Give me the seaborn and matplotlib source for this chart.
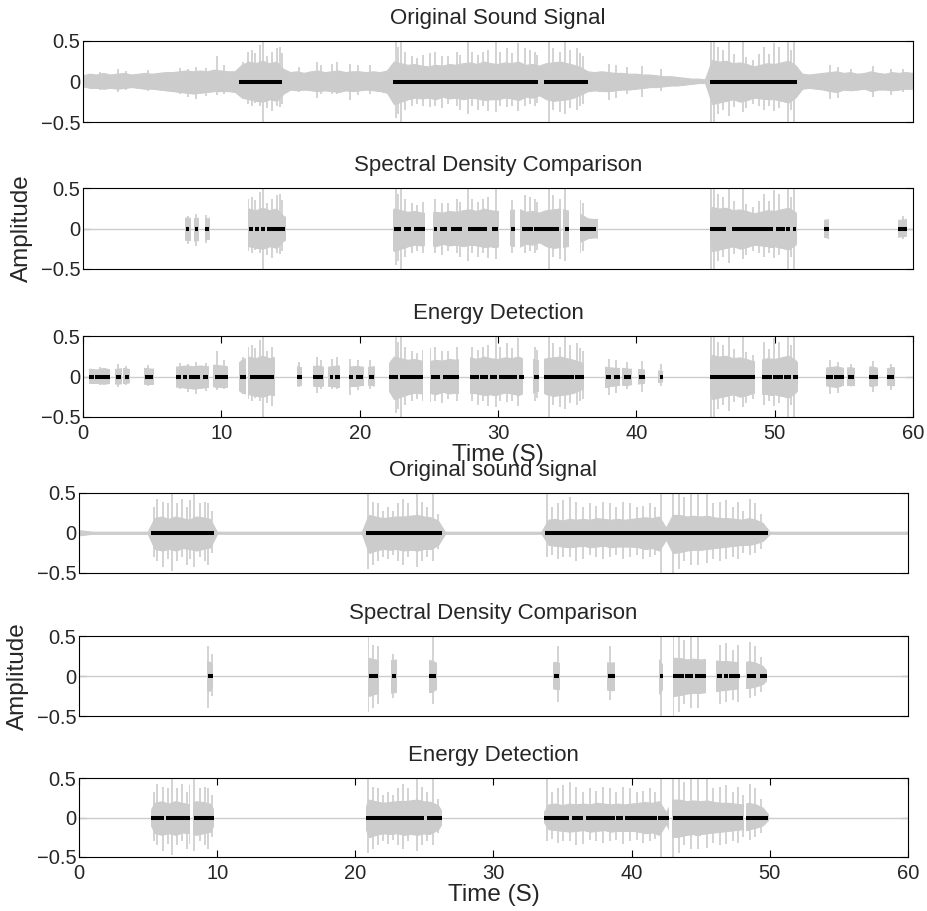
import numpy as np
import matplotlib
matplotlib.use("Agg")
import matplotlib.pyplot as plt
import seaborn as sns
from matplotlib.path import Path

# ---------------- data ----------------
# dense body of recording 1 (upper sound), one value every 0.5 s from 0 to 60 s
rec1_upper = [0.07, 0.09, 0.08, 0.10, 0.08, 0.09, 0.10, 0.08, 0.09, 0.10,
              0.09, 0.10, 0.11, 0.11, 0.12, 0.13, 0.12, 0.13, 0.12, 0.14,
              0.13, 0.12, 0.12, 0.20, 0.24, 0.22, 0.25, 0.22, 0.24, 0.15,
              0.11, 0.12, 0.10, 0.12, 0.13, 0.11, 0.12, 0.13, 0.11, 0.12,
              0.12, 0.11, 0.12, 0.11, 0.13, 0.24, 0.22, 0.20, 0.21, 0.19,
              0.18, 0.20, 0.19, 0.21, 0.20, 0.22, 0.23, 0.21, 0.24, 0.22,
              0.21, 0.23, 0.22, 0.24, 0.20, 0.21, 0.19, 0.22, 0.23, 0.24,
              0.22, 0.20, 0.17, 0.12, 0.11, 0.12, 0.11, 0.10, 0.10, 0.09,
              0.09, 0.08, 0.08, 0.07, 0.06, 0.06, 0.05, 0.04, 0.03, 0.03,
              0.02, 0.26, 0.24, 0.25, 0.22, 0.23, 0.21, 0.18, 0.20, 0.22,
              0.21, 0.23, 0.25, 0.20, 0.09, 0.08, 0.09, 0.10, 0.11, 0.12,
              0.10, 0.11, 0.09, 0.10, 0.12, 0.10, 0.09, 0.11, 0.10, 0.11,
              0.10]
rec1_lower = [-0.06, -0.08, -0.08, -0.09, -0.08, -0.09, -0.08, -0.07, -0.08, -0.09,
              -0.09, -0.10, -0.11, -0.12, -0.13, -0.14, -0.15, -0.14, -0.13, -0.12,
              -0.12, -0.12, -0.13, -0.20, -0.22, -0.24, -0.25, -0.22, -0.24, -0.15,
              -0.10, -0.11, -0.10, -0.11, -0.12, -0.11, -0.12, -0.13, -0.11, -0.12,
              -0.11, -0.10, -0.11, -0.12, -0.14, -0.28, -0.25, -0.22, -0.20, -0.21,
              -0.20, -0.22, -0.19, -0.21, -0.20, -0.22, -0.20, -0.21, -0.23, -0.22,
              -0.22, -0.20, -0.21, -0.23, -0.19, -0.20, -0.17, -0.22, -0.24, -0.23,
              -0.22, -0.20, -0.16, -0.12, -0.11, -0.12, -0.12, -0.11, -0.10, -0.10,
              -0.09, -0.08, -0.07, -0.07, -0.06, -0.05, -0.05, -0.04, -0.03, -0.02,
              -0.02, -0.28, -0.26, -0.24, -0.22, -0.25, -0.23, -0.20, -0.21, -0.22,
              -0.22, -0.24, -0.26, -0.20, -0.09, -0.08, -0.09, -0.10, -0.12, -0.13,
              -0.10, -0.11, -0.10, -0.09, -0.12, -0.10, -0.10, -0.11, -0.10, -0.09,
              -0.09]
# single tall peaks of recording 1: time (s), top, bottom
rec1_peak_t = [1.2, 2.5, 3.1, 4.7, 7.0, 7.6, 8.2, 8.9, 9.7, 10.2,
               11.59, 11.95, 12.2, 12.44, 12.8, 12.99, 13.28, 13.64, 14.0, 14.24, 14.36,
               15.6, 16.9, 17.2, 18.0, 18.34, 19.3, 19.9, 20.75,
               22.61, 22.76, 22.97, 23.28, 23.77, 24.13, 24.61, 25.09, 25.45, 25.93,
               26.42, 27.02, 27.26, 27.81, 28.1, 28.58, 28.95, 29.31, 29.84, 30.15,
               30.63, 31.0, 31.48, 31.96, 32.32, 32.68, 32.8,
               33.69, 34.0, 34.49, 34.85, 35.2, 35.69, 35.93, 36.17,
               38.0, 38.5, 39.3, 40.4, 41.8,
               45.40, 45.64, 45.88, 46.24, 46.73, 47.09, 47.69, 47.93, 48.41, 48.89,
               49.25, 49.61, 49.97, 50.33, 50.94, 51.18, 51.42,
               54.0, 54.6, 55.5, 57.1, 58.4, 59.3]
rec1_peak_hi = [0.12, 0.15, 0.13, 0.14, 0.17, 0.16, 0.18, 0.17, 0.31, 0.20,
                0.24, 0.37, 0.39, 0.35, 0.45, 0.50, 0.31, 0.37, 0.41, 0.42, 0.35,
                0.18, 0.24, 0.20, 0.22, 0.24, 0.22, 0.20, 0.20,
                0.49, 0.43, 0.50, 0.37, 0.31, 0.29, 0.33, 0.35, 0.37, 0.31,
                0.31, 0.37, 0.33, 0.50, 0.37, 0.33, 0.37, 0.39, 0.50, 0.37,
                0.41, 0.35, 0.47, 0.41, 0.39, 0.37, 0.33,
                0.50, 0.41, 0.37, 0.50, 0.39, 0.41, 0.35, 0.31,
                0.22, 0.20, 0.18, 0.19, 0.16,
                0.50, 0.49, 0.43, 0.39, 0.50, 0.34, 0.50, 0.30, 0.26, 0.34,
                0.43, 0.34, 0.47, 0.43, 0.50, 0.39, 0.50,
                0.20, 0.18, 0.16, 0.19, 0.16, 0.15]
rec1_peak_lo = [-0.11, -0.13, -0.10, -0.12, -0.15, -0.19, -0.21, -0.18, -0.17, -0.16,
                -0.22, -0.28, -0.30, -0.27, -0.30, -0.50, -0.33, -0.36, -0.30, -0.32, -0.28,
                -0.13, -0.20, -0.15, -0.15, -0.16, -0.23, -0.17, -0.15,
                -0.45, -0.40, -0.50, -0.35, -0.30, -0.28, -0.30, -0.32, -0.30, -0.33,
                -0.28, -0.30, -0.35, -0.40, -0.30, -0.35, -0.30, -0.36, -0.38, -0.30,
                -0.32, -0.30, -0.36, -0.30, -0.28, -0.30, -0.27,
                -0.50, -0.35, -0.38, -0.40, -0.33, -0.35, -0.30, -0.28,
                -0.23, -0.20, -0.16, -0.19, -0.12,
                -0.50, -0.50, -0.40, -0.35, -0.42, -0.32, -0.38, -0.33, -0.28, -0.30,
                -0.35, -0.30, -0.36, -0.33, -0.50, -0.35, -0.50,
                -0.22, -0.20, -0.12, -0.19, -0.17, -0.13]

# dense body of recording 2 (lower sound), one value every 0.5 s from 0 to 60 s
rec2_upper = [0.03, 0.02, 0.01, 0.01, 0.01, 0.01, 0.01, 0.01, 0.01, 0.01,
              0.01, 0.18, 0.20, 0.17, 0.20, 0.18, 0.16, 0.20, 0.19, 0.17,
              0.01, 0.01, 0.01, 0.01, 0.01, 0.01, 0.01, 0.01, 0.01, 0.01,
              0.01, 0.01, 0.01, 0.01, 0.01, 0.01, 0.01, 0.01, 0.01, 0.01,
              0.01, 0.01, 0.22, 0.20, 0.18, 0.19, 0.20, 0.20, 0.21, 0.22,
              0.20, 0.19, 0.15, 0.01, 0.01, 0.01, 0.01, 0.01, 0.01, 0.01,
              0.01, 0.01, 0.01, 0.01, 0.01, 0.01, 0.01, 0.01, 0.16, 0.17,
              0.15, 0.17, 0.16, 0.17, 0.16, 0.18, 0.17, 0.16, 0.17, 0.16,
              0.17, 0.18, 0.19, 0.18, 0.20, 0.06, 0.22, 0.22, 0.20, 0.21,
              0.20, 0.21, 0.19, 0.18, 0.18, 0.17, 0.16, 0.18, 0.16, 0.12,
              0.01, 0.01, 0.01, 0.01, 0.01, 0.01, 0.01, 0.01, 0.01, 0.01,
              0.01, 0.01, 0.01, 0.01, 0.01, 0.01, 0.01, 0.01, 0.01, 0.01,
              0.01]
rec2_lower = [-0.03, -0.02, -0.01, -0.01, -0.01, -0.01, -0.01, -0.01, -0.01, -0.01,
              -0.01, -0.20, -0.22, -0.20, -0.22, -0.19, -0.20, -0.22, -0.20, -0.18,
              -0.01, -0.01, -0.01, -0.01, -0.01, -0.01, -0.01, -0.01, -0.01, -0.01,
              -0.01, -0.01, -0.01, -0.01, -0.01, -0.01, -0.01, -0.01, -0.01, -0.01,
              -0.01, -0.01, -0.25, -0.22, -0.20, -0.21, -0.20, -0.22, -0.21, -0.22,
              -0.20, -0.20, -0.15, -0.01, -0.01, -0.01, -0.01, -0.01, -0.01, -0.01,
              -0.01, -0.01, -0.01, -0.01, -0.01, -0.01, -0.01, -0.01, -0.15, -0.16,
              -0.17, -0.18, -0.17, -0.16, -0.18, -0.17, -0.16, -0.18, -0.17, -0.17,
              -0.17, -0.18, -0.20, -0.19, -0.22, -0.08, -0.25, -0.24, -0.22, -0.21,
              -0.21, -0.20, -0.19, -0.18, -0.17, -0.16, -0.15, -0.15, -0.13, -0.10,
              -0.01, -0.01, -0.01, -0.01, -0.01, -0.01, -0.01, -0.01, -0.01, -0.01,
              -0.01, -0.01, -0.01, -0.01, -0.01, -0.01, -0.01, -0.01, -0.01, -0.01,
              -0.01]
rec2_peak_t = [5.43, 5.62, 6.1, 6.46, 6.75, 7.07, 7.43, 7.79, 8.03, 8.35, 8.76, 9.12, 9.36, 9.6,
               20.94, 21.3, 21.66, 22.02, 22.38, 22.75, 23.11, 23.47, 23.83, 24.44, 24.8,
               25.16, 25.64, 26.0,
               33.84, 34.2, 34.68, 35.04, 35.53, 36.0, 36.49, 36.97, 37.45, 37.94,
               38.42, 38.9, 39.38, 39.86, 40.35, 40.83, 41.31, 41.67, 42.15, 42.99,
               43.42, 43.76, 44.32, 44.8, 45.47, 45.88, 46.36, 46.84, 47.33, 47.69,
               48.05, 48.53, 48.9, 49.38]
rec2_peak_hi = [0.32, 0.43, 0.39, 0.37, 0.50, 0.37, 0.43, 0.32, 0.41, 0.49, 0.37, 0.39, 0.37, 0.28,
                0.50, 0.39, 0.37, 0.28, 0.32, 0.28, 0.37, 0.43, 0.37, 0.50, 0.39,
                0.32, 0.49, 0.24,
                0.50, 0.32, 0.37, 0.41, 0.45, 0.39, 0.32, 0.37, 0.34, 0.39,
                0.37, 0.32, 0.39, 0.37, 0.32, 0.34, 0.37, 0.32, 0.50, 0.50,
                0.50, 0.45, 0.50, 0.50, 0.50, 0.37, 0.39, 0.41, 0.32, 0.39,
                0.28, 0.43, 0.37, 0.24]
rec2_peak_lo = [-0.30, -0.35, -0.42, -0.33, -0.47, -0.35, -0.30, -0.40, -0.33, -0.42, -0.30, -0.35, -0.40, -0.25,
                -0.45, -0.40, -0.35, -0.30, -0.33, -0.28, -0.35, -0.40, -0.30, -0.42, -0.35,
                -0.30, -0.35, -0.20,
                -0.30, -0.27, -0.32, -0.30, -0.30, -0.35, -0.33, -0.28, -0.30, -0.32,
                -0.30, -0.28, -0.33, -0.30, -0.28, -0.32, -0.30, -0.27, -0.50, -0.50,
                -0.45, -0.35, -0.40, -0.40, -0.38, -0.32, -0.35, -0.33, -0.30, -0.32,
                -0.25, -0.28, -0.25, -0.20]

# kept (grey) intervals and detected (black) intervals, seconds
spec1_keep = [(7.4, 7.8), (8.05, 8.4), (8.8, 9.2), (11.95, 14.7), (22.4, 24.75),
              (25.3, 30.05), (30.9, 31.25), (31.6, 34.55), (34.7, 35.1), (35.9, 37.2),
              (45.3, 51.6), (53.6, 53.9), (58.9, 59.6)]
energy1_keep = [(0.4, 1.95), (2.3, 2.8), (2.9, 3.4), (4.4, 5.1), (6.7, 9.1), (9.4, 10.5),
                (11.3, 11.8), (11.96, 13.9), (15.5, 15.8), (16.6, 17.4), (17.7, 18.6),
                (19.2, 20.3), (20.6, 21.1), (22.1, 24.6), (25.1, 27.2), (28.0, 31.8),
                (32.5, 33.0), (33.3, 36.2), (37.7, 38.8), (39.0, 39.7), (40.1, 40.6),
                (41.6, 41.95), (45.3, 48.6), (49.1, 51.7), (53.7, 55.0), (55.2, 55.8),
                (56.8, 57.5), (58.1, 58.7)]
spec2_keep = [(9.24, 9.67), (20.9, 21.7), (22.6, 23.0), (25.3, 25.9), (34.3, 34.8),
              (38.25, 38.8), (42.0, 42.3), (42.96, 45.4), (46.1, 47.8), (48.3, 49.8)]
energy2_keep = [(5.2, 8.05), (8.25, 9.8), (20.75, 26.3), (33.65, 42.72), (42.95, 48.15),
                (48.3, 49.95)]

orig1_marks = [(11.3, 14.4), (22.4, 32.9), (33.3, 36.5), (45.3, 51.6)]
spec1_marks = [(7.45, 7.65), (8.1, 8.3), (8.85, 9.1), (12.0, 12.3), (12.45, 12.75),
               (12.9, 13.15), (13.3, 14.6), (22.45, 23.0), (23.2, 23.7), (23.9, 24.7),
               (25.4, 25.6), (25.8, 26.3), (26.6, 27.4), (27.8, 29.2), (29.55, 30.0),
               (30.95, 31.2), (31.7, 32.55), (32.6, 34.4), (34.85, 35.1), (35.9, 37.1),
               (45.3, 46.5), (46.95, 48.2), (48.25, 49.9), (50.1, 50.75), (50.85, 51.1),
               (51.3, 51.55), (53.6, 53.9), (58.95, 59.55)]
energy1_marks = [(0.45, 0.8), (0.9, 1.95), (2.4, 2.75), (3.0, 3.35), (4.45, 5.05),
                 (6.75, 7.1), (7.25, 7.5), (7.65, 8.45), (8.65, 9.05), (9.55, 10.45),
                 (11.35, 11.75), (12.1, 13.8), (15.5, 15.8), (16.65, 17.35), (17.85, 18.1),
                 (18.2, 18.55), (19.25, 19.55), (19.75, 20.25), (20.7, 21.05), (22.15, 22.8),
                 (22.9, 24.55), (25.15, 25.8), (26.05, 27.2), (28.0, 28.6), (28.7, 29.3),
                 (29.4, 29.9), (30.1, 31.35), (31.5, 31.85), (32.6, 33.0), (33.3, 35.5),
                 (35.6, 36.2), (37.8, 38.2), (38.4, 38.8), (39.1, 39.6), (40.2, 40.6),
                 (41.7, 41.9), (45.3, 48.6), (49.1, 49.8), (49.9, 50.6), (50.7, 51.2),
                 (51.3, 51.7), (53.7, 54.2), (54.3, 55.0), (55.3, 55.7), (56.8, 57.5),
                 (58.1, 58.6)]
orig2_marks = [(5.2, 9.8), (20.75, 26.3), (33.7, 49.9)]
spec2_marks = [(9.36, 9.67), (21.0, 21.66), (22.67, 22.94), (25.35, 25.83), (34.37, 34.75),
               (38.3, 38.78), (42.06, 42.3), (43.0, 43.78), (43.85, 44.45), (44.57, 45.37),
               (46.14, 46.57), (46.7, 47.0), (47.05, 47.83), (48.38, 48.98), (49.28, 49.76)]
energy2_marks = [(5.2, 6.15), (6.3, 8.0), (8.3, 9.75), (20.75, 25.0), (25.2, 26.25),
                 (33.67, 35.5), (35.65, 36.5), (36.7, 38.78), (38.86, 39.4), (39.5, 41.8),
                 (41.9, 42.7), (42.96, 48.07), (48.3, 49.9)]

titles = ["Original Sound Signal", "Spectral Density Comparison", "Energy Detection",
          "Original sound signal", "Spectral Density Comparison", "Energy Detection"]
x_ticks = [0, 10, 20, 30, 40, 50, 60]
y_ticks = [-0.5, 0, 0.5]
y_tick_labels = ["\u22120.5", "0", "0.5"]
x_label = "Time (S)"
y_label = "Amplitude"

# ---------------- style ----------------
sns.set_style("white")
plt.rcParams["font.family"] = ["Liberation Sans", "DejaVu Sans"]
plt.rcParams["axes.edgecolor"] = "black"
plt.rcParams["axes.linewidth"] = 0.8

GREY = "#cccccc"
W, H = 928, 911
fig = plt.figure(figsize=(W / 100, H / 100), dpi=100)

boxes = [(83, 913, 41, 122), (83, 913, 188, 269), (83, 913, 336, 417),
         (79, 908, 493, 573), (79, 908, 636, 716), (79, 908, 778, 857)]
axes = [fig.add_axes([l / W, 1 - b / H, (r - l) / W, (b - t) / H]) for (l, r, t, b) in boxes]

time1 = np.arange(len(rec1_upper)) * 0.5
time2 = np.arange(len(rec2_upper)) * 0.5


def draw_signal(ax, t, up, lo, pk_t, pk_hi, pk_lo, keep=None):
    arts = []
    if keep is not None:
        ax.axhline(0, color=GREY, lw=1.0, zorder=1)
    arts.append(ax.fill_between(t, lo, up, color=GREY, lw=0.6, zorder=2))
    sns.lineplot(x=t, y=up, ax=ax, color=GREY, lw=0.8, zorder=2)
    sns.lineplot(x=t, y=lo, ax=ax, color=GREY, lw=0.8, zorder=2)
    arts.extend(ax.lines[-2:])
    arts.append(ax.vlines(pk_t, pk_lo, pk_hi, color=GREY, lw=1.2, zorder=2))
    if keep is not None:
        verts, codes = [], []
        for s, e in keep:
            verts += [(s, -1), (e, -1), (e, 1), (s, 1), (s, -1)]
            codes += [Path.MOVETO, Path.LINETO, Path.LINETO, Path.LINETO, Path.CLOSEPOLY]
        clip = Path(verts, codes)
        for a in arts:
            a.set_clip_path(clip, ax.transData)


def draw_marks(ax, marks):
    starts = [s for s, e in marks]
    ends = [e for s, e in marks]
    ax.hlines([0.0] * len(marks), starts, ends, color="black", lw=2.9,
              capstyle="butt", zorder=3)


panels = [
    (time1, rec1_upper, rec1_lower, rec1_peak_t, rec1_peak_hi, rec1_peak_lo, None, orig1_marks),
    (time1, rec1_upper, rec1_lower, rec1_peak_t, rec1_peak_hi, rec1_peak_lo, spec1_keep, spec1_marks),
    (time1, rec1_upper, rec1_lower, rec1_peak_t, rec1_peak_hi, rec1_peak_lo, energy1_keep, energy1_marks),
    (time2, rec2_upper, rec2_lower, rec2_peak_t, rec2_peak_hi, rec2_peak_lo, None, orig2_marks),
    (time2, rec2_upper, rec2_lower, rec2_peak_t, rec2_peak_hi, rec2_peak_lo, spec2_keep, spec2_marks),
    (time2, rec2_upper, rec2_lower, rec2_peak_t, rec2_peak_hi, rec2_peak_lo, energy2_keep, energy2_marks),
]

for i, (ax, p) in enumerate(zip(axes, panels)):
    t, up, lo, pt, ph, pl, keep, marks = p
    draw_signal(ax, t, up, lo, pt, ph, pl, keep)
    draw_marks(ax, marks)
    ax.set_xlim(0, 60)
    ax.set_ylim(-0.5, 0.5)
    ax.set_yticks(y_ticks)
    ax.set_yticklabels(y_tick_labels)
    ax.set_title(titles[i], fontsize=16, pad=12)
    ax.tick_params(axis="both", direction="in", length=5, width=0.8, color="black",
                   labelsize=14.5, top=True, right=True, left=True, bottom=True)
    ax.tick_params(axis="y", pad=2)
    ax.tick_params(axis="x", pad=5)
    if i in (2, 5):
        ax.set_xticks(x_ticks)
        ax.set_xticklabels([str(v) for v in x_ticks])
        ax.set_xlabel(x_label, fontsize=17.5, labelpad=1)
    else:
        ax.set_xticks([])
    if i in (1, 4):
        ax.set_ylabel(y_label, fontsize=17.5)
        ax.yaxis.set_label_coords(-0.06, 0.5)
    for sp in ax.spines.values():
        sp.set_color("black")
        sp.set_linewidth(0.8)
        sp.set_zorder(5)

fig.savefig("out.png", dpi=100, facecolor="white")
